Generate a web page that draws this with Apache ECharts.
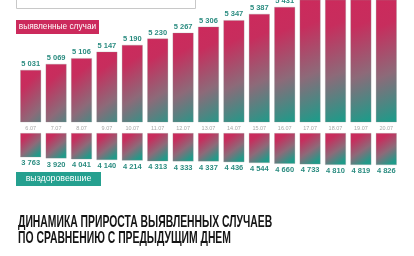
<!DOCTYPE html>
<html><head><meta charset="utf-8">
<script src="https://cdn.jsdelivr.net/npm/echarts@6/dist/echarts.min.js"></script>
<style>html,body{margin:0;padding:0;background:#fff}#c{width:414px;height:256px}</style>
</head><body><div id="c"></div>
<script>
var dates = ['6.07','7.07','8.07','9.07','10.07','11.07','12.07','13.07','14.07','15.07','16.07','17.07','18.07','19.07','20.07'];
var detected = [5031,5069,5106,5147,5190,5230,5267,5306,5347,5387,5431,5478,5522,5566,5610];
var recovered = [3763,3920,4041,4140,4214,4313,4333,4337,4436,4544,4660,4733,4810,4819,4826];
var titleLines = ['ДИНАМИКА ПРИРОСТА ВЫЯВЛЕННЫХ СЛУЧАЕВ','ПО СРАВНЕНИЮ С ПРЕДЫДУЩИМ ДНЕМ'];
var legendDetected = 'выявленные случаи';
var legendRecovered = 'выздоровевшие';

var TOP_MIN = 4700, TOP_MAX = 5475;
var CRIMSON = '#cc2a5c', TEAL = '#209a89';
function fmt(v){ return String(v).replace(/\B(?=(\d{3})+(?!\d))/g,' '); }
function gradient(x2){
  return {type:'linear',x:0,y:0,x2:x2,y2:1,colorStops:[{offset:0,color:CRIMSON},{offset:0.2,color:'#c72d5d'},{offset:0.55,color:'#8d6a79'},{offset:0.88,color:TEAL},{offset:1,color:TEAL}]};
}
var lbl = {fontFamily:'Liberation Sans',fontSize:7.5,fontWeight:'bold',color:'#2b8c80'};

var chart = echarts.init(document.getElementById('c'),null,{renderer:'canvas'});
chart.setOption({
  animation:false,
  grid:[{left:18,right:15,top:0,height:122},{left:18,right:15,top:133.3,height:33}],
  xAxis:[
    {type:'category',gridIndex:0,data:dates,axisLine:{show:false},axisTick:{show:false},
     axisLabel:{fontSize:5.5,color:'#a8a8a8',margin:3,fontFamily:'Liberation Sans',interval:0}},
    {type:'category',gridIndex:1,data:dates,show:false}
  ],
  yAxis:[
    {type:'value',gridIndex:0,min:TOP_MIN,max:TOP_MAX,show:false,splitLine:{show:false}},
    {type:'value',gridIndex:1,min:450,max:5000,inverse:true,show:false,splitLine:{show:false}}
  ],
  series:[
    {type:'bar',xAxisIndex:0,yAxisIndex:0,barWidth:21,clip:true,
     itemStyle:{color:gradient(2.5),borderColor:'rgba(150,150,150,0.45)',borderWidth:0.6},
     label:Object.assign({show:true,position:'top',distance:2,formatter:function(p){return p.value>TOP_MAX?'':fmt(p.value);}},lbl),
     data:detected},
    {type:'bar',xAxisIndex:1,yAxisIndex:1,barWidth:21,
     itemStyle:{color:gradient(1),borderColor:'rgba(150,150,150,0.45)',borderWidth:0.6},
     label:Object.assign({show:true,position:'bottom',distance:2,formatter:function(p){return fmt(p.value);}},lbl),
     data:recovered}
  ],
  graphic:[
    {type:'rect',shape:{x:16.5,y:-10,width:179,height:18.5},style:{fill:'#fff',stroke:'#c8c8c8',lineWidth:1}},
    {type:'rect',shape:{x:16,y:20,width:83,height:14},style:{fill:CRIMSON}},
    {type:'text',x:57.5,y:27,style:{text:legendDetected,fill:'#fff',font:'8.3px "Liberation Sans"',textAlign:'center',textVerticalAlign:'middle'}},
    {type:'rect',shape:{x:16,y:172,width:85,height:14},style:{fill:'#25a08f'}},
    {type:'text',x:58.5,y:179,style:{text:legendRecovered,fill:'#fff',font:'8.8px "Liberation Sans"',textAlign:'center',textVerticalAlign:'middle'}},
    {type:'text',x:18,y:222,scaleX:0.61,style:{text:titleLines[0],fill:'#151515',font:'bold 17px "Liberation Sans"',textVerticalAlign:'middle'}},
    {type:'text',x:18,y:238.8,scaleX:0.61,style:{text:titleLines[1],fill:'#151515',font:'bold 17px "Liberation Sans"',textVerticalAlign:'middle'}}
  ]
});
</script></body></html>
